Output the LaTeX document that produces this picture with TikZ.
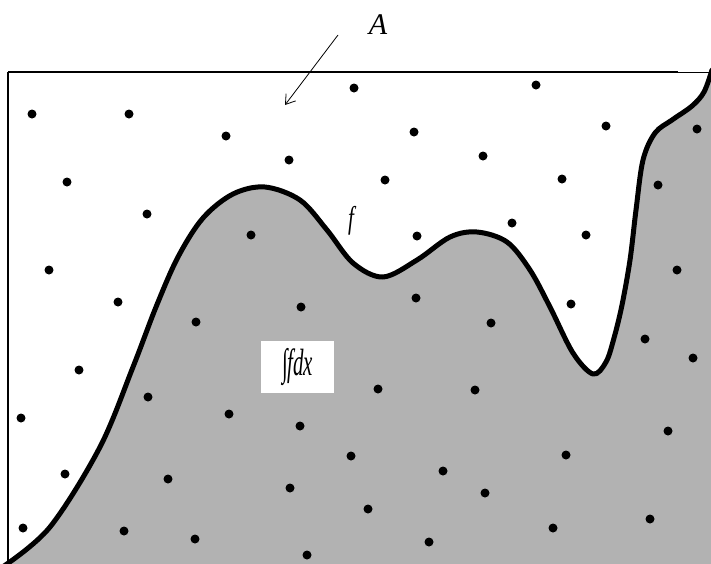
\documentclass[tikz,border=0pt]{standalone}
\usepackage{fontspec}
\setmainfont{Liberation Serif}
\usetikzlibrary{arrows.meta}
\definecolor{areagray}{RGB}{178,178,178}
\tikzset{
  dotmark/.style={fill=black},
  curveline/.style={line width=5pt, line join=round, line cap=round},
  frameline/.style={line width=2pt},
  pointer/.style={line width=0.8pt, -{Straight Barb[length=9pt,width=12pt]}},
  lbl/.style={inner sep=0pt, font=\fontsize{30}{30}\selectfont\itshape}
}
\begin{document}
\begin{tikzpicture}[x=1pt,y=-1pt]
\useasboundingbox (0,0) rectangle (711,563);
\def\fcurve{plot[smooth, tension=0.55] coordinates {
 (4,566) (50,527) (100,447) (133,367) (156,307) (178,257) (203,218) (233,194) (265,187)
 (300,200) (327,230) (353,263) (383,277) (417,260) (450,237) (477,232)
 (507,242) (530,270) (550,307) (573,353) (593,374) (606,362) (614,338)
 (622,305) (630,260) (636,210) (643,160) (655,133) (672,120) (692,106)
 (704,92) (712,70)}}
\begin{scope}
\clip (0,0) rectangle (711,563);
% shaded area under f
\fill[areagray] \fcurve -- (712,566) -- cycle;
% frame
\draw[frameline] (8,72) -- (678,72);
\draw[line width=1pt] (678,72) -- (711,72);
\draw[line width=1.6pt] (8,72) -- (8,563);
% the curve f
\draw[curveline] \fcurve;
\end{scope}
% random points
\foreach \px/\py in {
 32/114, 129/114, 226/136, 289/160, 67/182, 147/214, 49/270, 118/302,
 79/370, 21/418, 65/474, 23/528, 354/88, 536/85, 414/132, 606/126,
 483/156, 385/180, 562/179, 512/223, 417/236, 586/235, 571/304,
 251/235, 301/307, 196/322, 148/397, 229/414, 300/426, 351/456,
 168/479, 290/488, 124/531, 195/539, 307/555, 697/129, 658/185,
 677/270, 416/298, 491/323, 645/339, 693/358, 378/389, 475/390,
 668/431, 566/455, 443/471, 485/493, 368/509, 650/519, 553/528, 429/542}
 \fill[dotmark] (\px,\py) circle (4.5pt);
% labels
\node[lbl] (labelA) at (378,25) {A};
\coordinate (tail) at (338,35);
\coordinate (head) at (285,105);
\draw[pointer] (tail) -- (head);
\node[lbl] (labelf) at (351,221) {\scalebox{0.7}[1.05]{f}};
\node[fill=white, minimum width=73pt, minimum height=52pt, inner sep=0pt] (integral) at (297.5,367)
 {\fontsize{38}{38}\selectfont\scalebox{0.55}[1]{∫\kern-1pt\textit{fdx}}};
\end{tikzpicture}
\end{document}
